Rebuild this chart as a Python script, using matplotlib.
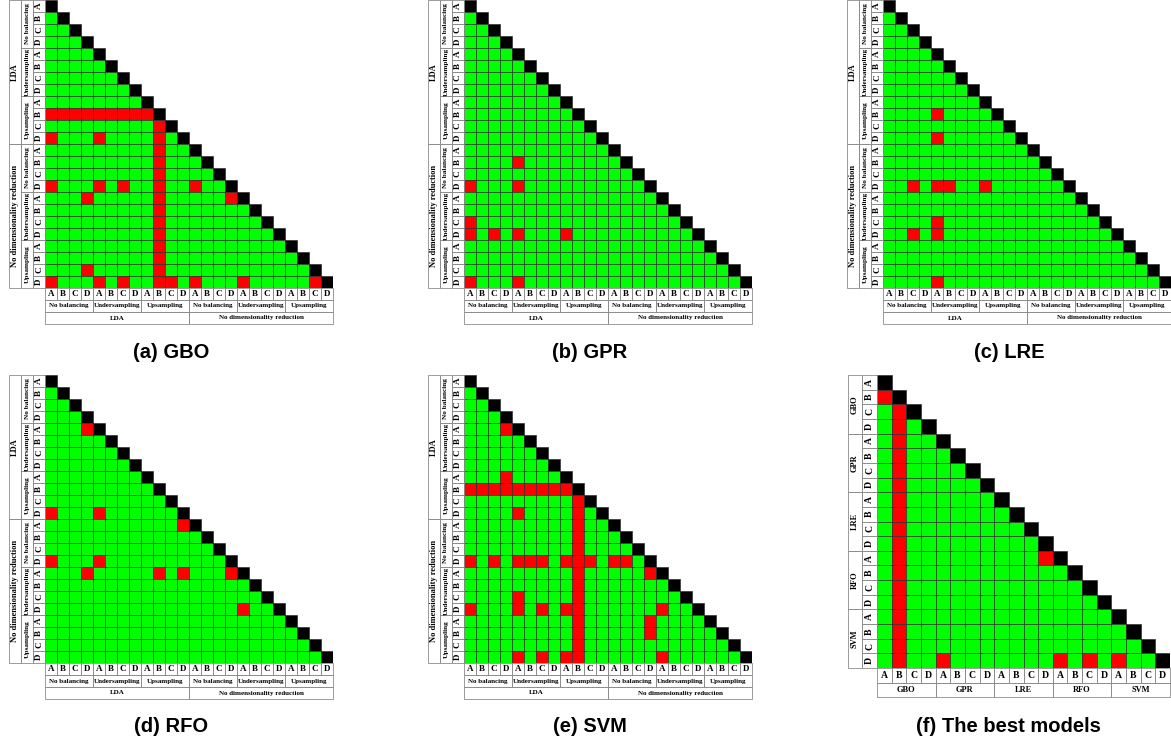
import numpy as np
import matplotlib.pyplot as plt
from matplotlib.patches import Rectangle

# category labels
letters = ['A', 'B', 'C', 'D']
balancing = ['No balancing', 'Undersampling', 'Upsampling']
reduction = ['LDA', 'No dimensionality reduction']
models = ['GBO', 'GPR', 'LRE', 'RFO', 'SVM']

# red cells (significant differences): row index -> list of column indices
gbo_red = {
    9: [0, 1, 2, 3, 4, 5, 6, 7, 8],
    10: [9], 11: [0, 4, 9], 12: [9], 13: [9], 14: [9],
    15: [0, 4, 6, 9, 12], 16: [3, 9, 15], 17: [9], 18: [9], 19: [9],
    20: [9], 21: [9], 22: [3, 9], 23: [0, 4, 6, 9, 10, 12, 16, 22],
}
gpr_red = {13: [4], 15: [0, 4], 18: [0], 19: [0, 2, 4, 8], 23: [0, 4]}
lre_red = {9: [4], 11: [4], 15: [2, 4, 5, 8], 18: [4], 19: [2, 4], 23: [4]}
rfo_red = {4: [3], 11: [0, 4], 12: [11], 15: [0, 4], 16: [3, 9, 11, 15], 19: [16]}
svm_red = {
    4: [3], 8: [3], 9: [0, 1, 2, 3, 4, 5, 6, 7, 8],
    10: [9], 11: [4, 9], 12: [9], 13: [9], 14: [9],
    15: [0, 2, 4, 5, 6, 8, 9, 10, 12, 13], 16: [9, 15], 17: [9],
    18: [4, 9], 19: [0, 4, 6, 8, 9, 16], 20: [9, 15], 21: [9, 15],
    22: [9], 23: [4, 6, 8, 9, 16],
}
best_red = {
    1: [0], 2: [1], 3: [1], 4: [1], 5: [1], 6: [1], 7: [1], 8: [1],
    9: [1], 10: [1], 11: [1], 12: [1, 11], 13: [1], 14: [1], 15: [1],
    16: [1], 17: [1], 18: [1], 19: [1, 4, 12, 14, 16],
}

W, H = 1171, 744
fig = plt.figure(figsize=(W / 100, H / 100), dpi=100)
fig.patch.set_facecolor('white')

colors = {0: '#00ff00', 1: '#ff0000', 2: '#000000'}
serif = 'Liberation Serif'
line_col = '#8c8c8c'


def build_matrix(n, red):
    m = np.zeros((n, n), dtype=int)
    for r, cols in red.items():
        for c in cols:
            m[r, c] = 1
    m[np.diag_indices(n)] = 2
    return m


def add_panel(x0, y0, cell, red, levels, bottom_sizes, left_sizes, caption, cap_y):
    n = len(levels[0][0])
    ax = fig.add_axes([x0 / W, 1 - (y0 + n * cell) / H, n * cell / W, n * cell / H])
    m = build_matrix(n, red)
    # lower triangle + diagonal only
    for r in range(n):
        for c in range(r + 1):
            ax.add_patch(Rectangle((c, r), 1, 1, facecolor=colors[m[r, c]],
                                   edgecolor='#2a2a2a', lw=0.45))
    ax.set_xlim(0, n)
    ax.set_ylim(n, 0)
    ax.axis('off')

    # label tables below and left of the grid
    for k, (labels, span) in enumerate(levels):
        for i, lab in enumerate(labels):
            # bottom
            ax.add_patch(Rectangle((i * span, n + k), span, 1, fill=False,
                                   edgecolor=line_col, lw=0.6, clip_on=False))
            ax.text(i * span + span / 2, n + k + 0.5, lab, ha='center', va='center',
                    fontsize=bottom_sizes[k], fontweight='bold', family=serif,
                    clip_on=False)
            # left
            ax.add_patch(Rectangle((-k - 1, i * span), 1, span, fill=False,
                                   edgecolor=line_col, lw=0.6, clip_on=False))
            ax.text(-k - 0.5, i * span + span / 2, lab, ha='center', va='center',
                    rotation=90, fontsize=left_sizes[k], fontweight='bold',
                    family=serif, clip_on=False)

    left = x0 - len(levels) * cell
    right = x0 + n * cell
    fig.text((left + right) / 2 / W, 1 - cap_y / H, caption, ha='center', va='center',
             fontsize=14.5, fontweight='bold', family='Liberation Sans')


full_levels = [(letters * 6, 1), (balancing * 2, 4), (reduction, 12)]
best_levels = [(letters * 5, 1), (models, 4)]

add_panel(45, 0, 12, gbo_red, full_levels, [6.5, 5, 5], [6.5, 5.2, 6], '(a) GBO', 352)
add_panel(464, 0, 12, gpr_red, full_levels, [6.5, 5, 5], [6.5, 5.2, 6], '(b) GPR', 352)
add_panel(883, 0, 12, lre_red, full_levels, [6.5, 5, 5], [6.5, 5.2, 6], '(c) LRE', 352)
add_panel(45, 375, 12, rfo_red, full_levels, [6.5, 5, 5], [6.5, 5.2, 6], '(d) RFO', 727)
add_panel(464, 375, 12, svm_red, full_levels, [6.5, 5, 5], [6.5, 5.2, 6], '(e) SVM', 727)
add_panel(877, 375, 14.65, best_red, best_levels, [7, 6], [7, 6], '(f) The best models', 727)

fig.savefig('out.png', dpi=100, facecolor='white')
